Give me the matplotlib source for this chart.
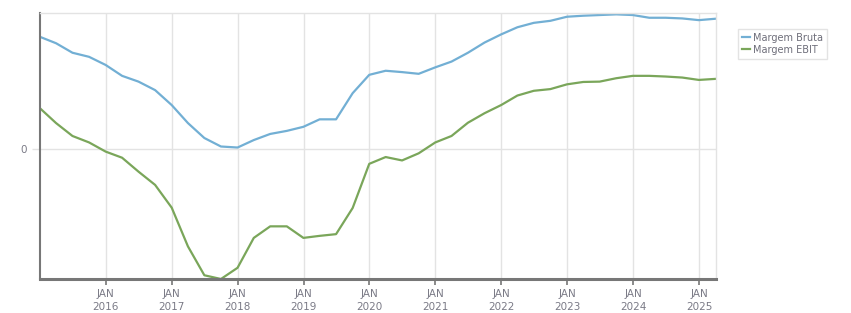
import matplotlib
matplotlib.use("Agg")
import matplotlib.pyplot as plt
import pandas as pd

# quarterly margins (%)
quarters = pd.date_range("2014-12-31", "2025-03-31", freq="QE")
margem_bruta = [33.0, 31.1, 28.3, 27.1, 24.7, 21.5, 19.8, 17.3, 12.9, 7.6, 3.2, 0.7,
                0.4, 2.6, 4.4, 5.3, 6.5, 8.7, 8.7, 16.4, 21.8, 23.0, 22.6, 22.1,
                24.0, 25.7, 28.3, 31.3, 33.7, 35.8, 37.1, 37.7, 38.9, 39.2, 39.4, 39.6,
                39.4, 38.6, 38.6, 38.4, 37.9, 38.3]
margem_ebit = [12.0, 7.6, 3.8, 1.9, -0.8, -2.6, -6.7, -10.6, -17.3, -28.7, -37.2, -38.3,
               -35.0, -26.2, -22.8, -22.8, -26.2, -25.6, -25.1, -17.4, -4.4, -2.4, -3.4, -1.3,
               1.9, 3.8, 7.7, 10.5, 12.9, 15.7, 17.1, 17.6, 19.0, 19.7, 19.8, 20.8,
               21.5, 21.5, 21.3, 21.0, 20.3, 20.6]
years = list(range(2016, 2026))

fig = plt.figure(figsize=(8.51, 3.13), dpi=100)
ax = fig.add_axes([40 / 851, 34 / 313, 676 / 851, 266 / 313])

ax.plot(quarters, margem_bruta, color="#72afd4", linewidth=1.6, label="Margem Bruta")
ax.plot(quarters, margem_ebit, color="#7aa65a", linewidth=1.6, label="Margem EBIT")

ax.set_xlim(pd.Timestamp("2015-01-01"), pd.Timestamp("2025-04-05"))
ax.set_ylim(-38.3, 40)

ax.set_xticks([pd.Timestamp(f"{y}-01-01") for y in years])
ax.set_xticklabels([f"JAN\n{y}" for y in years], linespacing=1.3)
ax.set_yticks([0])
ax.set_yticklabels(["0"])

ax.grid(True, color="#e3e3e3", linewidth=1)
ax.set_axisbelow(True)
ax.tick_params(axis="x", colors="#777777", labelcolor="#7a7a86", labelsize=7.5, length=4, width=1.2)
ax.tick_params(axis="y", colors="#e3e3e3", labelcolor="#7a7a86", labelsize=7.5, length=6, width=1)

for s in ["top", "right"]:
    ax.spines[s].set_color("#e3e3e3")
    ax.spines[s].set_linewidth(1)
ax.spines["left"].set_color("#777777")
ax.spines["left"].set_linewidth(1.5)
ax.spines["bottom"].set_color("#777777")
ax.spines["bottom"].set_linewidth(2.2)

leg = ax.legend(loc="upper left", bbox_to_anchor=(1.033, 0.94), fontsize=7, frameon=True,
                fancybox=False, handlelength=0.8, handletextpad=0.3, borderpad=0.4,
                labelspacing=0.2, borderaxespad=0)
leg.get_frame().set_edgecolor("#dddddd")
leg.get_frame().set_linewidth(1)
for t in leg.get_texts():
    t.set_color("#6e6e7a")

fig.savefig("out.png", dpi=100)
